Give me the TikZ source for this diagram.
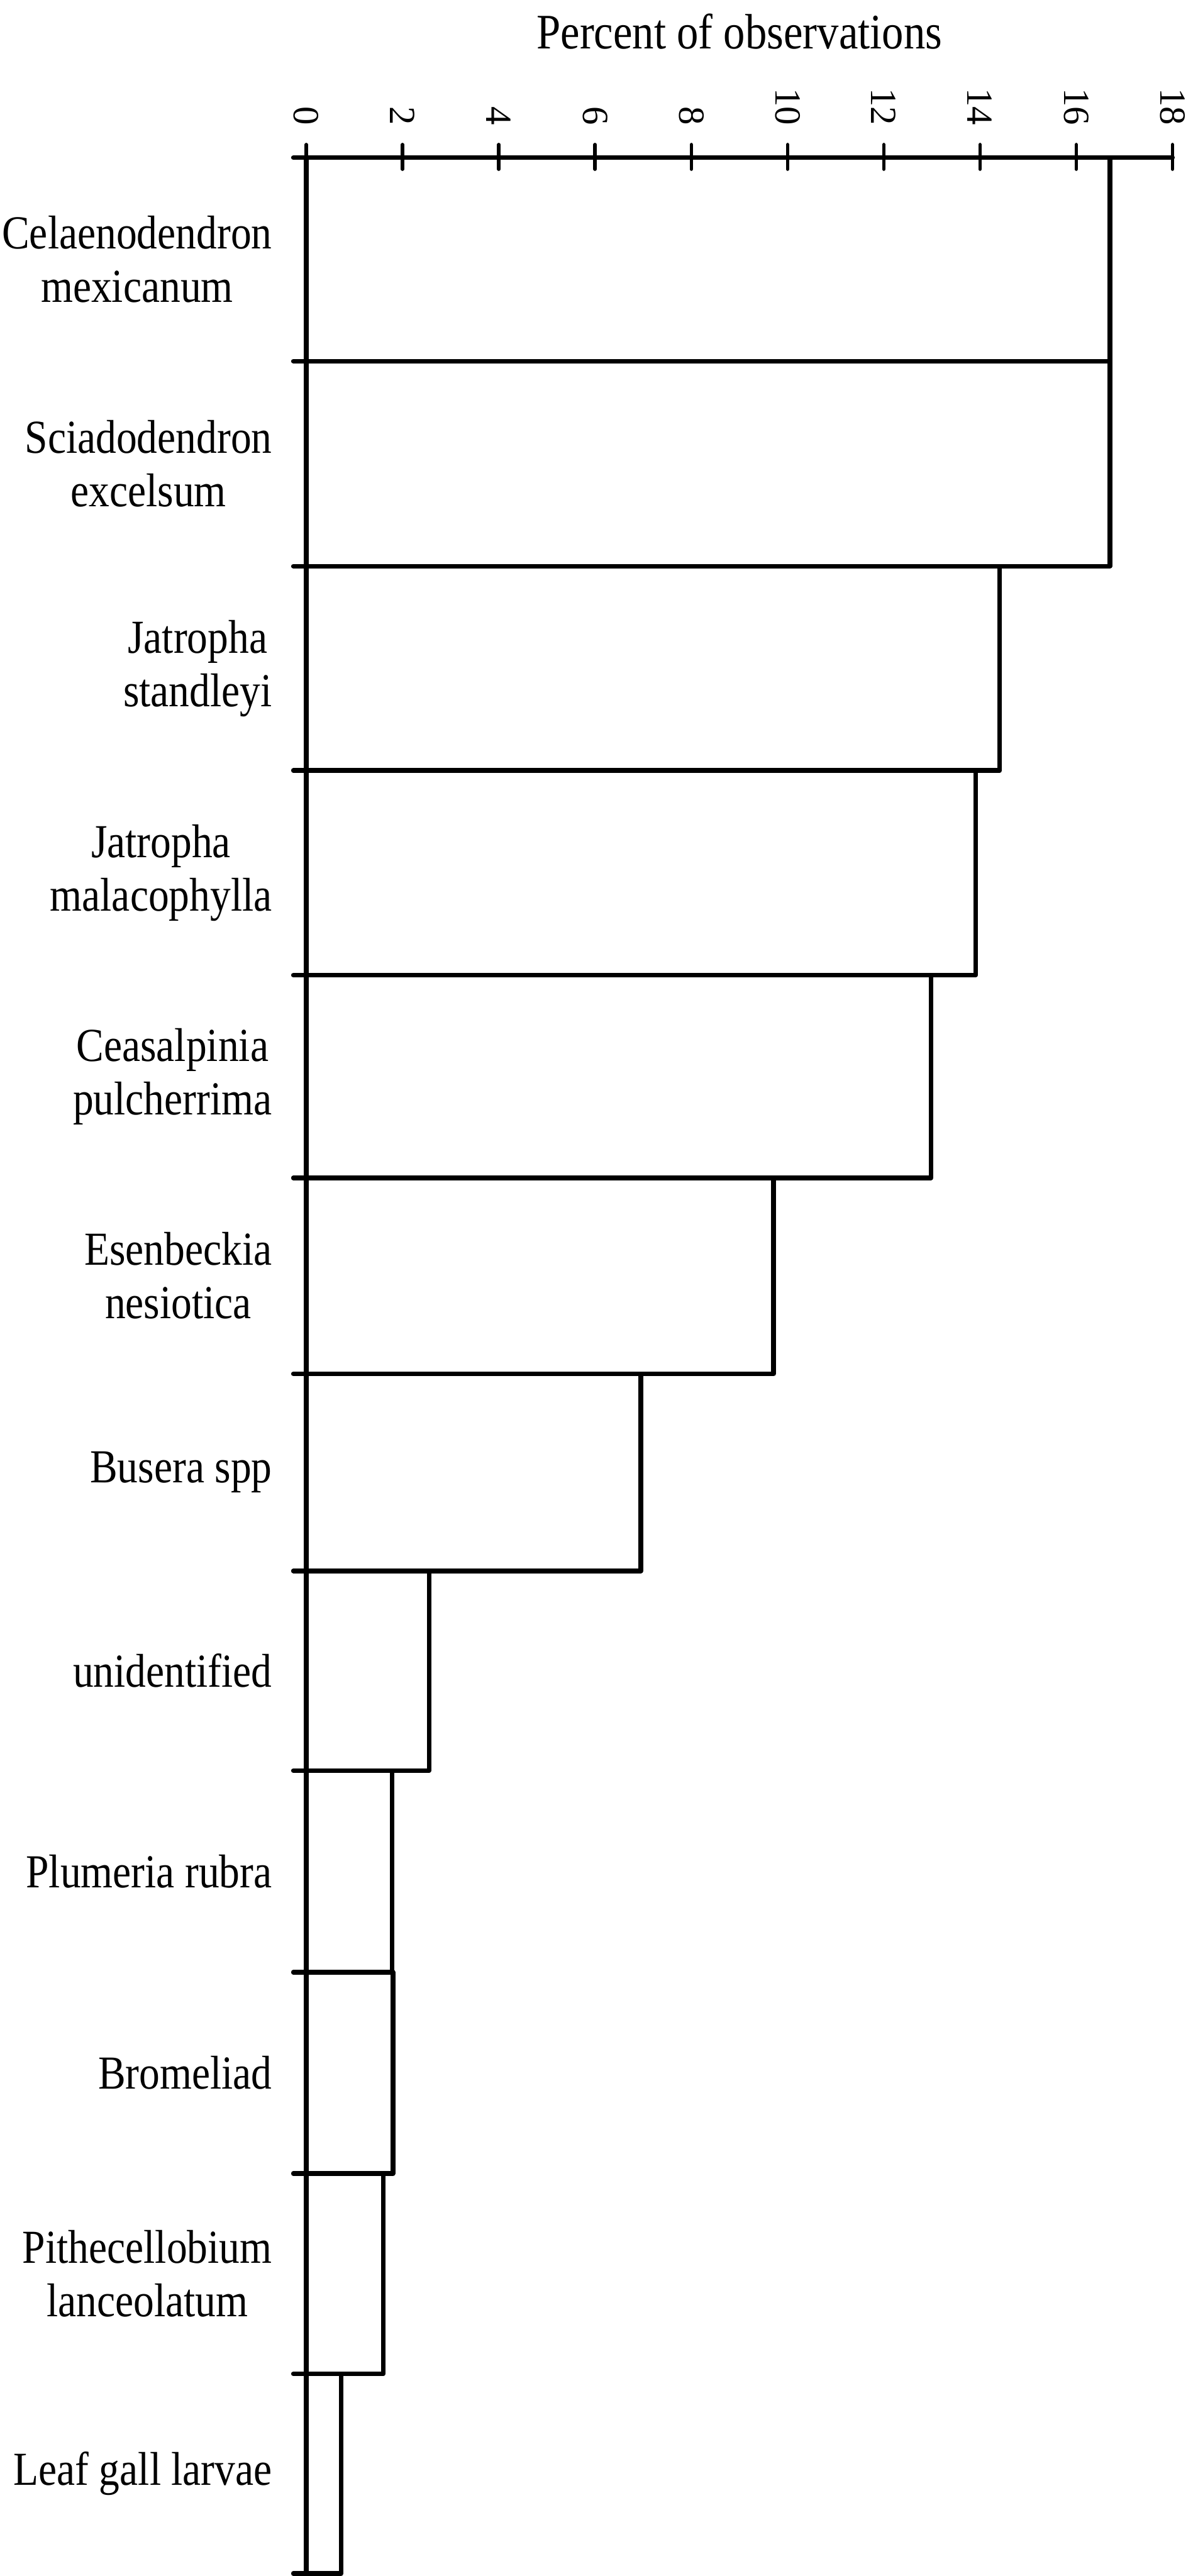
\documentclass[tikz,border=0pt]{standalone}
\usepackage{fontspec}
\setmainfont{Liberation Serif}
\newfontfamily\narrowserif{Liberation Serif}[FakeStretch=0.87]
\begin{document}
\begin{tikzpicture}[x=5.858mm, y=-0.2mm, line width=1.6pt, line join=round, line cap=round,
	spname/.style={anchor=east, align=center, inner sep=0pt, font=\narrowserif\fontsize{16.4}{18.5}\selectfont},
	ticklab/.style={rotate=-90, anchor=east, inner sep=0pt, font=\fontsize{12.8}{14}\selectfont}]
				\useasboundingbox (-6.367,0) rectangle (18.52,1568);
				\draw (-0.27,96)--(18,96);
				\draw[line width=1.2pt] (0,88)--(0,103) (2,88)--(2,103) (4,88)--(4,103) (6,88)--(6,103) (8,88)--(8,103)
				(10,88)--(10,103) (12,88)--(12,103) (14,88)--(14,103) (16,88)--(16,103) (18,88)--(18,103);
				\draw (0,96) rectangle (16.7,219.8) (0,219.8) rectangle (16.7,344.6)
				(0,344.6) rectangle (14.41,469) (0,469) rectangle (13.91,593.6)
				(0,593.6) rectangle (12.98,717) (0,717) rectangle (9.71,836.2)
				(0,836.2) rectangle (6.95,956.2) (0,956.2) rectangle (2.55,1077.7)
				(0,1077.7) rectangle (1.78,1200.5) (0,1200.5) rectangle (1.8,1323)
				(0,1323) rectangle (1.6,1444.9) (0,1444.9) rectangle (0.72,1566.5);
				\draw (-0.27,219.8)--(0,219.8) (-0.27,344.6)--(0,344.6) (-0.27,469)--(0,469) (-0.27,593.6)--(0,593.6)
				(-0.27,717)--(0,717) (-0.27,836.2)--(0,836.2) (-0.27,956.2)--(0,956.2) (-0.27,1077.7)--(0,1077.7)
				(-0.27,1200.5)--(0,1200.5) (-0.27,1323)--(0,1323) (-0.27,1444.9)--(0,1444.9) (-0.27,1566.5)--(0,1566.5);
				\path (9,29.5)node[anchor=base, inner sep=0pt, font=\narrowserif\fontsize{17.2}{20}\selectfont](title){Percent of observations}
				(0,77.5)node[ticklab](t0){0} (2,77.5)node[ticklab](t2){2} (4,77.5)node[ticklab](t4){4}
				(6,77.5)node[ticklab](t6){6} (8,77.5)node[ticklab](t8){8} (10,77.5)node[ticklab](t10){10}
				(12,77.5)node[ticklab](t12){12} (14,77.5)node[ticklab](t14){14} (16,77.5)node[ticklab](t16){16}
				(18,77.5)node[ticklab](t18){18};
				\path (-0.666,157.9)node[spname](celaeno){Celaenodendron\\mexicanum}
				(-0.666,282.2)node[spname](sciado){Sciadodendron\\excelsum}
				(-0.666,406.8)node[spname](jstand){Jatropha\\standleyi}
				(-0.666,531.3)node[spname](jmalac){Jatropha\\malacophylla}
				(-0.666,655.3)node[spname](ceasal){Ceasalpinia\\pulcherrima}
				(-0.666,776.6)node[spname](esenb){Esenbeckia\\nesiotica}
				(-0.666,896.2)node[spname](busera){Busera spp}
				(-0.666,1017)node[spname](unident){unidentified}
				(-0.666,1139.1)node[spname](plumeria){Plumeria rubra}
				(-0.666,1261.8)node[spname](bromel){Bromeliad}
				(-0.666,1384)node[spname](pithec){Pithecellobium\\lanceolatum}
				(-0.666,1505.7)node[spname](leafgall){Leaf gall larvae};
			\end{tikzpicture}
\end{document}
